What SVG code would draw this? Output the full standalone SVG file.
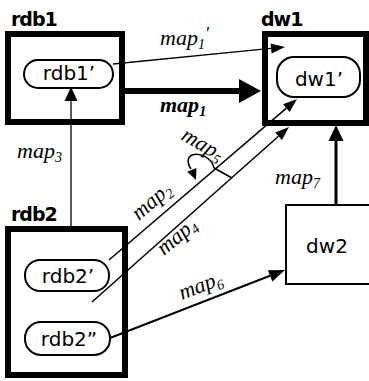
<svg xmlns="http://www.w3.org/2000/svg" width="369" height="381" viewBox="0 0 369 381">
<style>
.box{fill:none;stroke:#000;stroke-width:6}
.thin{fill:none;stroke:#000;stroke-width:2}
.rr{fill:#fff;stroke:#000;stroke-width:2}
.t{font-family:"DejaVu Sans",sans-serif;font-size:20px;text-anchor:middle;fill:#000}
.bt{font-family:"DejaVu Sans",sans-serif;font-size:19px;font-weight:bold;letter-spacing:-1px;fill:#000}
.lbl{font-family:"Liberation Serif",serif;font-style:italic;font-size:22px;fill:#000}
.b{font-weight:bold}
.sub{font-size:14px}
.pr{font-size:18px}
.ln{fill:none;stroke:#000}
.ah{fill:#000;stroke:none}
</style>
<rect width="369" height="381" fill="#fff"/>
<g id="rdb1">
<text class="bt" x="11" y="26">rdb1</text>
<rect class="box" x="8" y="34" width="114" height="88"/>
</g>
<g id="rdb1p">
<rect class="rr" x="24" y="60" width="89" height="28" rx="14"/>
<text class="t" x="69" y="80">rdb1’</text>
</g>
<g id="dw1">
<text class="bt" x="261" y="26">dw1</text>
<rect class="box" x="265" y="34" width="101" height="89"/>
</g>
<g id="dw1p">
<rect class="rr" x="277" y="57" width="83" height="40" rx="17"/>
<text class="t" x="319" y="86">dw1’</text>
</g>
<g id="rdb2">
<text class="bt" x="11" y="221">rdb2</text>
<rect class="box" x="8" y="229" width="117" height="146"/>
</g>
<g id="rdb2p">
<rect class="rr" x="25" y="260" width="84" height="31" rx="15"/>
<text class="t" x="68" y="283">rdb2’</text>
</g>
<g id="rdb2pp">
<rect class="rr" x="25" y="322" width="85" height="33" rx="16"/>
<text class="t" x="69" y="346">rdb2”</text>
</g>
<g id="dw2">
<rect class="thin" x="286" y="205" width="90" height="79"/>
<text class="t" x="327" y="253">dw2</text>
</g>
<g id="connectors">
<line class="ln" stroke-width="1.3" x1="113" y1="64" x2="271" y2="48.4"/>
<polygon class="ah" points="285,47 271.6,53.4 270.6,43.4"/>
<line class="ln" stroke-width="6" x1="124" y1="91" x2="240" y2="91"/>
<polygon class="ah" points="261,91 239,79 239,103"/>
<line class="ln" stroke-width="1.3" x1="71" y1="227" x2="71" y2="100"/>
<polygon class="ah" points="71,87 77.5,101 64.5,101"/>
<line class="ln" stroke-width="1.5" x1="109" y1="260" x2="286.4" y2="108.1"/>
<polygon class="ah" points="297,99 289.6,111.9 283.1,104.3"/>
<line class="ln" stroke-width="1.5" x1="92" y1="302" x2="278.5" y2="136.3"/>
<polygon class="ah" points="289,127 281.9,140 275.2,132.6"/>
<line class="ln" stroke-width="1.5" x1="232" y1="178" x2="214" y2="168"/>
<path class="ln" stroke-width="1.5" d="M 214,168 C 212,158 200,152 192,155 C 186,158 188,165 191,169"/>
<polygon class="ah" points="196,180 196.4,167.9 187.2,171.7"/>
<line class="ln" stroke-width="2" x1="110" y1="338" x2="270" y2="275.8"/>
<polygon class="ah" points="285,270 272.3,281.4 267.9,270.2"/>
<line class="ln" stroke-width="3" x1="336" y1="205" x2="336" y2="140"/>
<polygon class="ah" points="336,125 343.5,141 328.5,141"/>
</g>
<g id="labels">
<text class="lbl" x="160" y="45">map<tspan class="sub" dy="4">1</tspan><tspan class="pr" dy="-9">′</tspan></text>
<text class="lbl b" x="160" y="112">map<tspan class="sub" dy="4">1</tspan></text>
<text class="lbl" x="17" y="158">map<tspan class="sub" dy="4">3</tspan></text>
<text class="lbl" x="275" y="184">map<tspan class="sub" dy="4">7</tspan></text>
<text class="lbl" transform="translate(139,221) rotate(-41)">map<tspan class="sub" dy="4">2</tspan></text>
<text class="lbl" transform="translate(164,256) rotate(-40)">map<tspan class="sub" dy="4">4</tspan></text>
<text class="lbl" transform="translate(180,139) rotate(30)">map<tspan class="sub" dy="4">5</tspan></text>
<text class="lbl" transform="translate(182,300) rotate(-21)">map<tspan class="sub" dy="4">6</tspan></text>
</g>
</svg>
